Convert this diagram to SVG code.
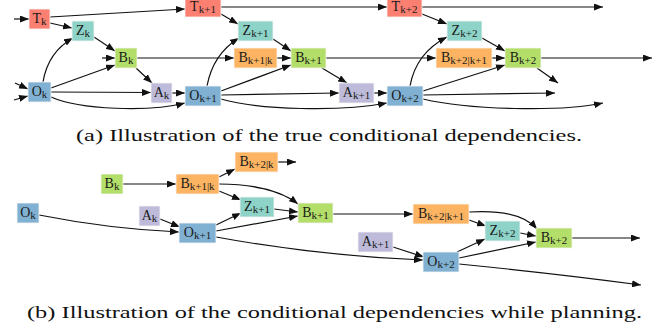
<svg xmlns="http://www.w3.org/2000/svg" width="665" height="335" viewBox="0 0 665 335">
<defs>
<marker id="ah" viewBox="0 0 10 10" refX="10" refY="5" markerWidth="9" markerHeight="7" markerUnits="userSpaceOnUse" orient="auto" preserveAspectRatio="none">
<path d="M0,0 L10,5 L0,10 z" fill="#111"/>
</marker>
</defs>
<style>
.n text{font-family:'Liberation Serif','Times New Roman',serif;font-size:14px;fill:#1a1a1a;text-anchor:middle}
.n tspan{font-size:11px}
.T{fill:#FB8072}.Z{fill:#8DD3C7}.B{fill:#B3DE69}.P{fill:#FDB462}.A{fill:#BEBADA}.O{fill:#80B1D3}
rect{stroke:#f4f4f4;stroke-width:0.8}
#connectors path{fill:none;stroke:#111;stroke-width:1.2;marker-end:url(#ah)}
.cap{font-family:'Liberation Serif','Times New Roman',serif;font-size:17.5px;fill:#111}
</style>
<g id="connectors">
<path d="M14,19 L29,19"/>
<path d="M15,83 L28,89"/>
<path d="M14,100 L28,96"/>
<path d="M102,58 L115,58"/>
<path d="M50,17 L185,9"/>
<path d="M50,23 L72,28"/>
<path d="M43,82 Q48,52 73,38"/>
<path d="M94,37 L115,51"/>
<path d="M51,88 L115,65"/>
<path d="M51,92 L151,92.5"/>
<path d="M51,97 C80,110 150,112 185,103"/>
<path d="M136,68 L152,83"/>
<path d="M172,93 L185,93"/>
<path d="M137,58 L234,58"/>
<path d="M221,14 L238,24"/>
<path d="M221,7 L387,7"/>
<path d="M207,86 Q213,54 239,38"/>
<path d="M273,39 L291,51"/>
<path d="M277,58 L291,58"/>
<path d="M221,91 L291,65"/>
<path d="M221,95 L339,93"/>
<path d="M221,99 C260,110 340,112 387,103"/>
<path d="M322,68 L347,83"/>
<path d="M374,93 L387,93"/>
<path d="M326,58 L436,58"/>
<path d="M422,14 L447,24"/>
<path d="M422,7 L603,7"/>
<path d="M410,86 Q416,53 447,37"/>
<path d="M482,38 L505,51"/>
<path d="M492,58 L505,58"/>
<path d="M423,91 L505,65"/>
<path d="M423,95 L555,93"/>
<path d="M423,99 C470,110 560,112 603,103"/>
<path d="M541,58 L652,58"/>
<path d="M537,68 L558,83"/>
<path d="M123,184 L176,184"/>
<path d="M219,177 L235,169"/>
<path d="M278,162 L296,162"/>
<path d="M219,184 C250,184 280,190 298,204"/>
<path d="M219,191 L241,200"/>
<path d="M39,215 Q110,229 179,232"/>
<path d="M160,219 L180,227"/>
<path d="M216,225 L241,213"/>
<path d="M274,209 L298,212"/>
<path d="M216,231 L298,216"/>
<path d="M216,237 Q320,256 423,260"/>
<path d="M333,214 L413,214"/>
<path d="M469,212 C500,210 525,215 537,229"/>
<path d="M469,220 L486,226"/>
<path d="M393,247 L424,257"/>
<path d="M457,252 L485,239"/>
<path d="M520,233 L536,236"/>
<path d="M459,258 L536,242"/>
<path d="M572,238 L640,238"/>
<path d="M459,264 Q560,274 641,285"/>
</g>
<g id="a_Tk" class="n"><rect class="T" x="29" y="9" width="21" height="20"/><text x="39.5" y="23">T<tspan dy="2">k</tspan></text></g>
<g id="a_Tk1" class="n"><rect class="T" x="185" y="-3" width="36" height="20"/><text x="203" y="11">T<tspan dy="2">k+1</tspan></text></g>
<g id="a_Tk2" class="n"><rect class="T" x="387" y="-3" width="35" height="20"/><text x="404.5" y="11">T<tspan dy="2">k+2</tspan></text></g>
<g id="a_Zk" class="n"><rect class="Z" x="72" y="21" width="22" height="20"/><text x="83" y="35">Z<tspan dy="2">k</tspan></text></g>
<g id="a_Zk1" class="n"><rect class="Z" x="238" y="21" width="35" height="20"/><text x="255.5" y="35">Z<tspan dy="2">k+1</tspan></text></g>
<g id="a_Zk2" class="n"><rect class="Z" x="447" y="21" width="35" height="20"/><text x="464.5" y="35">Z<tspan dy="2">k+2</tspan></text></g>
<g id="a_Bk" class="n"><rect class="B" x="115" y="48" width="22" height="20"/><text x="126" y="62">B<tspan dy="2">k</tspan></text></g>
<g id="a_Bk1k" class="n"><rect class="P" x="234" y="48" width="43" height="20"/><text x="255.5" y="62">B<tspan dy="2">k+1|k</tspan></text></g>
<g id="a_Bk1" class="n"><rect class="B" x="291" y="48" width="35" height="20"/><text x="308.5" y="62">B<tspan dy="2">k+1</tspan></text></g>
<g id="a_Bk2k1" class="n"><rect class="P" x="436" y="48" width="56" height="20"/><text x="464" y="62">B<tspan dy="2">k+2|k+1</tspan></text></g>
<g id="a_Bk2" class="n"><rect class="B" x="505" y="48" width="36" height="20"/><text x="523" y="62">B<tspan dy="2">k+2</tspan></text></g>
<g id="a_Ok" class="n"><rect class="O" x="28" y="82" width="23" height="20"/><text x="39.5" y="96">O<tspan dy="2">k</tspan></text></g>
<g id="a_Ak" class="n"><rect class="A" x="151" y="83" width="21" height="20"/><text x="161.5" y="97">A<tspan dy="2">k</tspan></text></g>
<g id="a_Ok1" class="n"><rect class="O" x="185" y="86" width="36" height="20"/><text x="203" y="100">O<tspan dy="2">k+1</tspan></text></g>
<g id="a_Ak1" class="n"><rect class="A" x="339" y="83" width="35" height="20"/><text x="356.5" y="97">A<tspan dy="2">k+1</tspan></text></g>
<g id="a_Ok2" class="n"><rect class="O" x="387" y="86" width="36" height="20"/><text x="405" y="100">O<tspan dy="2">k+2</tspan></text></g>
<g id="b_Bk2k" class="n"><rect class="P" x="235" y="152" width="43" height="20"/><text x="256.5" y="166">B<tspan dy="2">k+2|k</tspan></text></g>
<g id="b_Bk" class="n"><rect class="B" x="101" y="174" width="22" height="20"/><text x="112" y="188">B<tspan dy="2">k</tspan></text></g>
<g id="b_Bk1k" class="n"><rect class="P" x="176" y="174" width="43" height="20"/><text x="197.5" y="188">B<tspan dy="2">k+1|k</tspan></text></g>
<g id="b_Ok" class="n"><rect class="O" x="17" y="203" width="22" height="20"/><text x="28" y="217">O<tspan dy="2">k</tspan></text></g>
<g id="b_Ak" class="n"><rect class="A" x="139" y="206" width="21" height="20"/><text x="149.5" y="220">A<tspan dy="2">k</tspan></text></g>
<g id="b_Zk1" class="n"><rect class="Z" x="240" y="197" width="34" height="20"/><text x="257" y="211">Z<tspan dy="2">k+1</tspan></text></g>
<g id="b_Bk1" class="n"><rect class="B" x="298" y="203" width="35" height="20"/><text x="315.5" y="217">B<tspan dy="2">k+1</tspan></text></g>
<g id="b_Ok1" class="n"><rect class="O" x="179" y="223" width="37" height="20"/><text x="197.5" y="237">O<tspan dy="2">k+1</tspan></text></g>
<g id="b_Bk2k1" class="n"><rect class="P" x="413" y="204" width="56" height="20"/><text x="441" y="218">B<tspan dy="2">k+2|k+1</tspan></text></g>
<g id="b_Ak1" class="n"><rect class="A" x="358" y="232" width="35" height="20"/><text x="375.5" y="246">A<tspan dy="2">k+1</tspan></text></g>
<g id="b_Zk2" class="n"><rect class="Z" x="485" y="221" width="35" height="20"/><text x="502.5" y="235">Z<tspan dy="2">k+2</tspan></text></g>
<g id="b_Bk2" class="n"><rect class="B" x="536" y="228" width="36" height="20"/><text x="554" y="242">B<tspan dy="2">k+2</tspan></text></g>
<g id="b_Ok2" class="n"><rect class="O" x="423" y="252" width="36" height="20"/><text x="441" y="266">O<tspan dy="2">k+2</tspan></text></g>
<text class="cap" x="76" y="141" textLength="506" lengthAdjust="spacingAndGlyphs">(a) Illustration of the true conditional dependencies.</text>
<text class="cap" x="27" y="318" textLength="615" lengthAdjust="spacingAndGlyphs">(b) Illustration of the conditional dependencies while planning.</text>
</svg>
